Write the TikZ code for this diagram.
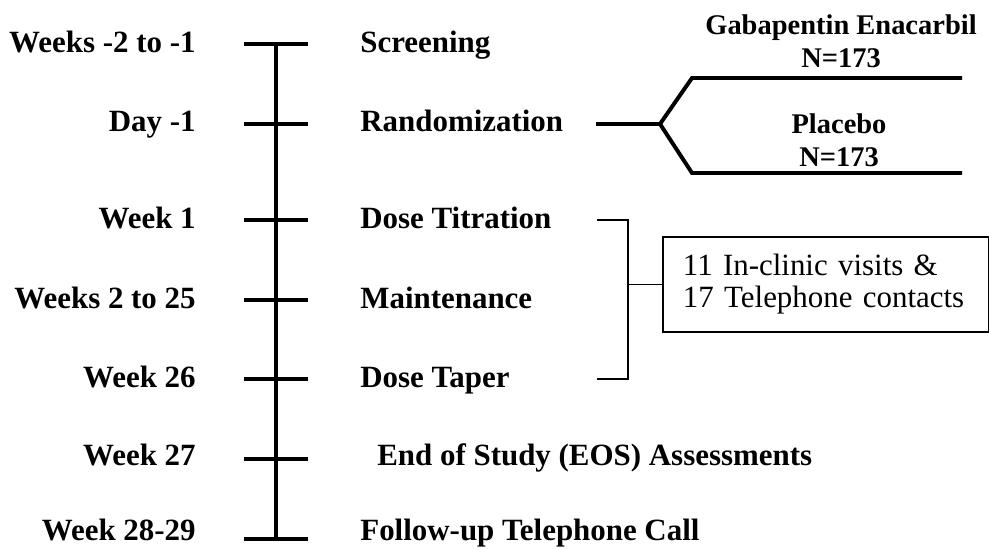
\documentclass[tikz,border=0pt]{standalone}
\usepackage{fontspec}
\setmainfont{Liberation Serif}
\usetikzlibrary{positioning}

\begin{document}
\begin{tikzpicture}[
        every node/.style={font=\fontsize{17.6}{21}\selectfont\bfseries},
        when/.style={anchor=base east, inner sep=0pt},
        phase/.style={anchor=base west, inner sep=0pt},
        arm/.style={align=center, font=\fontsize{16.2}{18.7}\selectfont\bfseries},
        heavy/.style={line width=2.25pt},
        thin/.style={line width=1.05pt}]
        \useasboundingbox (0,0) rectangle (19.78,10.96);

        % Timeline points
        \coordinate (t1) at (5.52,10.08);
        \coordinate (t2) at (5.52,8.48);
        \coordinate (t3) at (5.52,6.56);
        \coordinate (t4) at (5.52,4.96);
        \coordinate (t5) at (5.52,3.38);
        \coordinate (t6) at (5.52,1.78);
        \coordinate (t7) at (5.52,0.18);

        % Time labels
        \node (w1) [when] at (3.92,9.90) {Weeks -2 to -1};
        \node (w2) [when] at (3.92,8.34) {Day -1};
        \node (w3) [when] at (3.92,6.40) {Week 1};
        \node (w4) [when] at (3.92,4.80) {Weeks 2 to 25};
        \node (w5) [when] at (3.92,3.22) {Week 26};
        \node (w6) [when] at (3.92,1.66) {Week 27};
        \node (w7) [when] at (3.92,0.15) {Week 28-29};

        % Phase labels
        \node (p1) [phase] at (7.2,9.90) {Screening};
        \node (p2) [phase] at (7.2,8.34) {Randomization};
        \node (p3) [phase] at (7.2,6.40) {Dose Titration};
        \node (p4) [phase] at (7.2,4.80) {Maintenance};
        \node (p5) [phase] at (7.2,3.22) {Dose Taper};
        \node (p6) [phase] at (7.54,1.66) {End of Study (EOS) Assessments};
        \node (p7) [phase] at (7.2,0.15) {Follow-up Telephone Call};

        % Timeline with ticks
        \draw[heavy] (t1) -- (t7);
        \foreach \i in {1,...,7} {
            \draw[heavy] ([xshift=-0.64cm]t\i) -- ([xshift=0.64cm]t\i);
        }

        % Randomization arms
        \coordinate (rs) at (11.92,8.48);
        \coordinate (split) at (13.2,8.48);
        \coordinate (ga) at (13.84,9.40);
        \coordinate (gaend) at (19.24,9.40);
        \coordinate (pa) at (13.84,7.50);
        \coordinate (paend) at (19.24,7.50);
        \draw[heavy] (rs) -- (split);
        \draw[heavy] (split) -- (ga) -- (gaend);
        \draw[heavy] (split) -- (pa) -- (paend);
        \node (gab) [arm] at (16.82,10.13) {Gabapentin Enacarbil\\N=173};
        \node (plc) [arm] at (16.78,8.15) {Placebo\\N=173};

        % Visits bracket
        \coordinate (b1) at (11.94,6.56);
        \coordinate (b2) at (11.94,3.38);
        \coordinate (bm) at (12.56,5.27);
        \draw[thin] (b1) -- (b1 -| bm) -- (b2 -| bm) -- (b2);
        \node (box) [draw, thin, right=0.68cm of bm, align=left,
            font=\fontsize{17.6}{18.2}\selectfont,
            text width=5.72cm, inner xsep=0.4cm, minimum height=1.9cm]
            {11 In-clinic visits \&\\17 Telephone contacts};
        \draw[thin] (bm) -- (box);
    \end{tikzpicture}
\end{document}
